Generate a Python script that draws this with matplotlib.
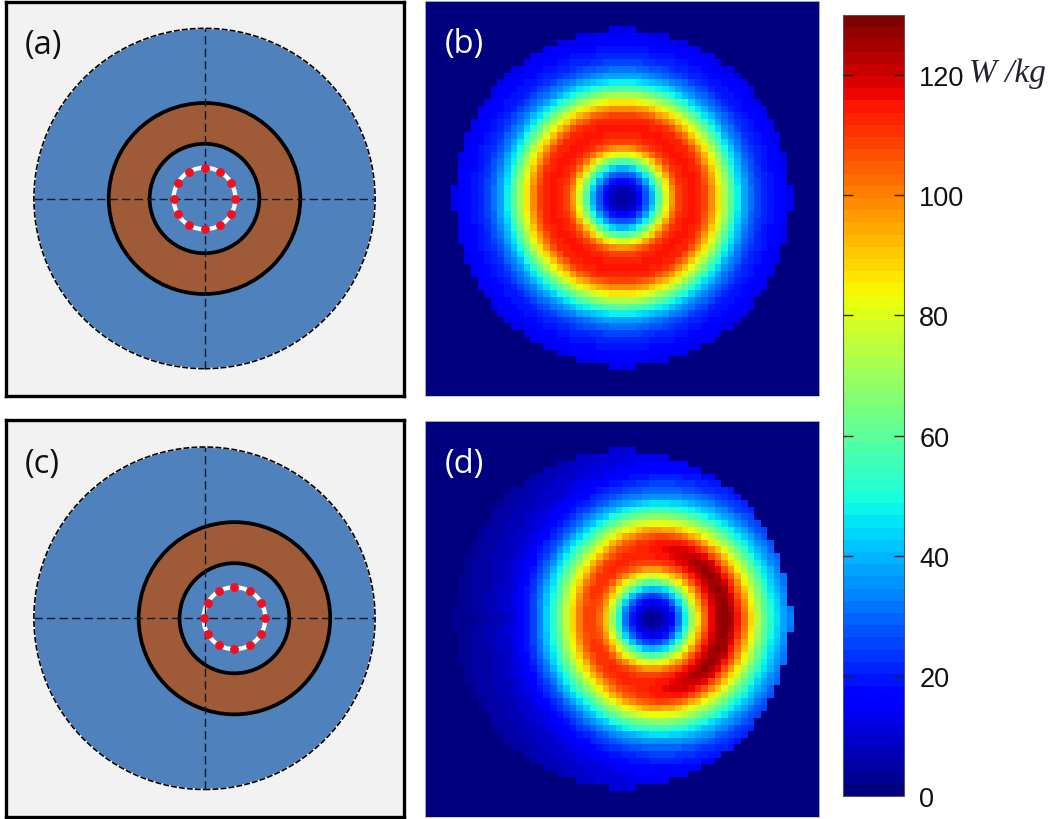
import numpy as np
import matplotlib
matplotlib.use('Agg')
import matplotlib.pyplot as plt
from matplotlib.patches import Circle
from matplotlib.cm import ScalarMappable
from matplotlib.colors import Normalize

FIG_W, FIG_H = 1050, 820

panel_labels = ['(a)', '(b)', '(c)', '(d)']
cbar_ticks = [0, 20, 40, 60, 80, 100, 120]
cbar_unit = 'W /kg'
vmin, vmax = 0, 130

# schematic geometry, pixels
domain_radius = 171
ring_outer = 96
ring_inner = 55
coil_radius = 31
coil_offset_a = 0
coil_offset_c = 30
n_coil_dots = 12

# heat map, W/kg per cell of distance from the ring centre
n_cells = 60
mask_radius_cells = 25.6
profile_b = [3, 5, 10, 20, 32, 48, 68, 88, 104, 112, 114, 114, 113, 105, 93, 80, 66,
             53, 42, 34, 28, 23, 20, 18, 16, 14, 13, 12]

# panel d, one profile per direction away from the coil side
angles_d = [0, 45, 90, 135, 180]
profile_d_0 = [3, 5, 9, 16, 30, 48, 68, 87, 103, 116, 125, 128, 125, 115, 102, 88, 74,
               62, 52, 45, 38, 33, 29, 26, 24, 22, 20, 18, 16, 14, 12, 10, 8]
profile_d_45 = [3, 5, 9, 17, 30, 48, 68, 87, 103, 115, 123, 126, 122, 111, 97, 83, 70,
                58, 48, 40, 33, 27, 23, 20, 18, 16, 14, 12, 10, 9, 8, 7, 6]
profile_d_90 = [3, 5, 10, 18, 30, 48, 68, 88, 104, 112, 114, 114, 112, 103, 89, 75, 62,
                50, 40, 32, 27, 22, 19, 16, 14, 13, 12, 11, 9, 8, 7, 6, 5]
profile_d_135 = [3, 5, 10, 18, 31, 49, 69, 89, 104, 111, 112, 107, 97, 84, 71, 60, 49,
                 40, 32, 25, 20, 16, 13, 11, 9, 8, 7, 6, 5, 4, 4, 3, 3]
profile_d_180 = [3, 5, 10, 18, 31, 50, 70, 90, 103, 109, 108, 100, 87, 75, 63, 52, 43,
                 33, 25, 19, 15, 12, 10, 8, 7, 6, 5, 4, 4, 3, 3, 3, 3]


def px_axes(fig, x0, y0, x1, y1):
    return fig.add_axes([x0 / FIG_W, 1 - y1 / FIG_H, (x1 - x0) / FIG_W, (y1 - y0) / FIG_H])


def draw_schematic(ax, offset, label):
    ax.set_xlim(-199.5, 199.5)
    ax.set_ylim(-198, 198)
    ax.set_facecolor('#f2f2f2')
    ax.set_xticks([])
    ax.set_yticks([])
    for s in ax.spines.values():
        s.set_linewidth(2.4)
        s.set_color('black')

    ax.add_patch(Circle((0, 0), domain_radius, fc='#4f81bd', ec='white', lw=1.2))
    ax.add_patch(Circle((0, 0), domain_radius, fc='none', ec='black', lw=1.2, ls=(0, (3.6, 1.2))))
    ax.add_patch(Circle((offset, 0), ring_outer, fc='#9f5a37', ec='none'))
    ax.add_patch(Circle((offset, 0), ring_inner, fc='#4f81bd', ec='none'))

    # centre lines run over the ring
    ax.plot([-domain_radius, domain_radius], [0, 0], color='#10182a', lw=1, ls=(0, (6, 3)))
    ax.plot([0, 0], [-domain_radius, domain_radius], color='#10182a', lw=1, ls=(0, (6, 3)))

    ax.add_patch(Circle((offset, 0), ring_outer, fc='none', ec='black', lw=2.7))
    ax.add_patch(Circle((offset, 0), ring_inner, fc='none', ec='black', lw=2.7))

    ax.add_patch(Circle((offset, 0), coil_radius, fc='none', ec='white', lw=3))
    dots = np.deg2rad(np.arange(n_coil_dots) * 360 / n_coil_dots)
    ax.plot(offset + coil_radius * np.cos(dots), coil_radius * np.sin(dots), 'o',
            color='#f01020', ms=6.4, mew=0)
    ax.text(-180, 155, label, fontsize=23.5, family='Open Sans', color='#111111', va='center')


def cell_polar():
    # distance and direction of every cell centre, in cells
    c = (np.arange(n_cells) + 0.5) - n_cells / 2
    return np.meshgrid(c, c)


def heat_b():
    x, y = cell_polar()
    r = np.hypot(x, y)
    z = np.interp(r, np.arange(len(profile_b)), profile_b)
    z[r > mask_radius_cells] = 0
    return z


def heat_d():
    x, y = cell_polar()
    r_mask = np.hypot(x, y)
    shift = 4.5
    r = np.hypot(x - shift, y)
    ang = np.abs(np.rad2deg(np.arctan2(y, x - shift)))
    tables = [profile_d_0, profile_d_45, profile_d_90, profile_d_135, profile_d_180]
    z = np.zeros((n_cells, n_cells))
    for i in range(n_cells):
        for j in range(n_cells):
            by_angle = [np.interp(r[i, j], np.arange(len(t)), t) for t in tables]
            z[i, j] = np.interp(ang[i, j], angles_d, by_angle)
    z[r_mask > mask_radius_cells] = 0
    return z


def draw_heat(ax, z, label, cmap):
    ax.imshow(z, cmap=cmap, vmin=vmin, vmax=vmax, interpolation='nearest', origin='upper',
              extent=[0, 395, 396, 0], aspect='auto')
    ax.set_xticks([])
    ax.set_yticks([])
    for s in ax.spines.values():
        s.set_linewidth(0.6)
        s.set_color('#b8c4e0')
    ax.text(20, 43, label, fontsize=23.5, family='Open Sans', color='white', va='center')


fig = plt.figure(figsize=(FIG_W / 100, FIG_H / 100), dpi=100, facecolor='white')
cmap = plt.get_cmap('jet', 64)

draw_schematic(px_axes(fig, 5.5, 2.5, 403.5, 396.5), coil_offset_a, panel_labels[0])
draw_schematic(px_axes(fig, 5.5, 421, 403.5, 817.5), coil_offset_c, panel_labels[2])
draw_heat(px_axes(fig, 424.5, 1.5, 819, 397), heat_b(), panel_labels[1], cmap)
draw_heat(px_axes(fig, 424.5, 422, 819, 818), heat_d(), panel_labels[3], cmap)

cax = px_axes(fig, 843, 16, 904, 797)
cb = fig.colorbar(ScalarMappable(Normalize(vmin, vmax), cmap), cax=cax)
cb.set_ticks(cbar_ticks)
cb.outline.set_edgecolor('#555555')
cb.outline.set_linewidth(0.8)
cax.tick_params(axis='y', which='major', length=0, labelsize=19.5, pad=11, labelcolor='#111111')
# tick marks sit inside the bar on both sides, the axis ones end up under the colours
tr = cax.get_yaxis_transform()
cax.hlines(cbar_ticks, 0, 0.16, transform=tr, color='#222222', lw=1, zorder=6)
cax.hlines(cbar_ticks, 0.84, 1, transform=tr, color='#222222', lw=1, zorder=6)
cax.set_ylim(vmin, vmax)
for t in cax.get_yticklabels():
    t.set_family('Liberation Sans')
fig.text(969 / FIG_W, 1 - 74 / FIG_H, cbar_unit, fontsize=24, family='Liberation Serif',
         style='italic', color='#222233', va='center', ha='left')

fig.savefig('out.png', dpi=100)
